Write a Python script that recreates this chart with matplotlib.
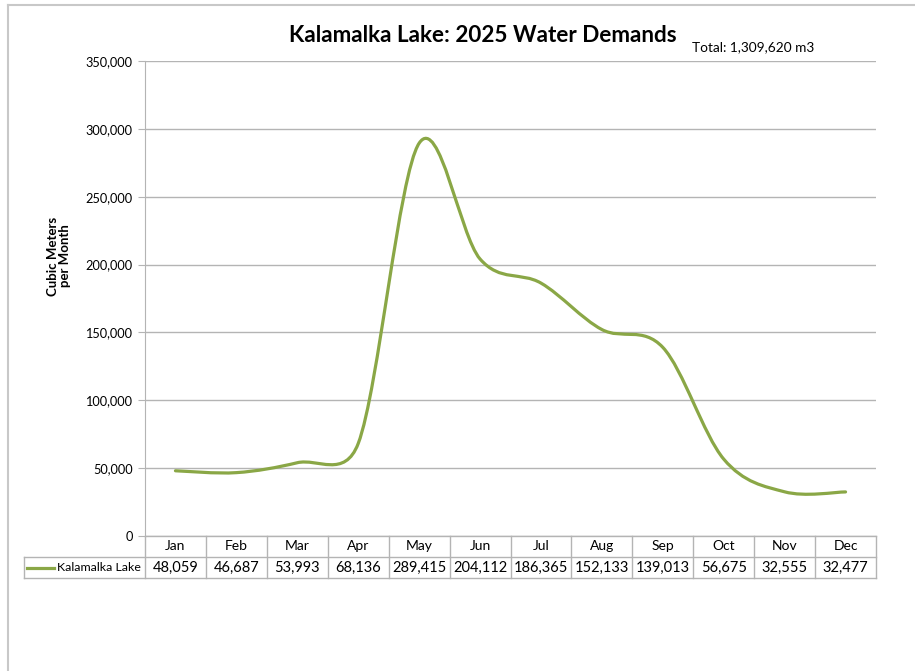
import matplotlib
matplotlib.use("Agg")
import matplotlib.pyplot as plt
import matplotlib.transforms as mtransforms
from matplotlib.path import Path
from matplotlib.patches import PathPatch
from matplotlib.lines import Line2D
import numpy as np

months = ["Jan", "Feb", "Mar", "Apr", "May", "Jun",
          "Jul", "Aug", "Sep", "Oct", "Nov", "Dec"]
demand = [48059, 46687, 53993, 68136, 289415, 204112,
          186365, 152133, 139013, 56675, 32555, 32477]
series_name = "Kalamalka Lake"
title = "Kalamalka Lake: 2025 Water Demands"
total_note = "Total: 1,309,620 m3"
y_label = "Cubic Meters\nper Month"
y_ticks = [0, 50000, 100000, 150000, 200000, 250000, 300000, 350000]

GREEN = "#8aa746"
GRID = "#b4b4b4"
plt.rcParams["font.family"] = ["Lato", "DejaVu Sans"]

W, H = 915, 671
fig = plt.figure(figsize=(W / 100, H / 100), dpi=100)
ax = fig.add_axes([145 / W, 1 - 536 / H, 731 / W, 475 / H])
ax.set_xlim(-0.5, len(months) - 0.5)
ax.set_ylim(0, 350000)

x = np.arange(len(months), dtype=float)
y = np.array(demand, dtype=float)

# smoothed line: catmull-rom style bezier, control arm capped relative to
# the adjacent segment length (screen space) so short legs don't dip
sx = 731 / 12
sy = 475 / 350000
n = len(x)


def seglen(i, j):
    return np.hypot((x[j] - x[i]) * sx, (y[j] - y[i]) * sy)


def ctrl(i, side):
    a, b = max(i - 1, 0), min(i + 1, n - 1)
    tx, ty = (x[b] - x[a]) / 6, (y[b] - y[a]) / 6
    arm = np.hypot(tx * sx, ty * sy)
    nb = min(i + side, n - 1)
    cap = 0.6 * seglen(i, nb)
    k = min(1.0, cap / arm) if arm else 0
    return x[i] + side * tx * k, y[i] + side * ty * k


verts = [(x[0], y[0])]
codes = [Path.MOVETO]
for i in range(n - 1):
    verts += [ctrl(i, 1), ctrl(i + 1, -1), (x[i + 1], y[i + 1])]
    codes += [Path.CURVE4] * 3
ax.add_patch(PathPatch(Path(verts, codes), fill=False, edgecolor=GREEN,
                       lw=2.3, capstyle="round", joinstyle="round"))

ax.set_yticks(y_ticks)
ax.set_yticklabels([f"{v:,}" for v in y_ticks], fontsize=9.2)
ax.set_xticks([])
ax.yaxis.grid(True, color=GRID, lw=1)
ax.set_axisbelow(True)
for s in ["top", "right", "bottom"]:
    ax.spines[s].set_visible(False)
ax.spines["left"].set_color(GRID)
ax.tick_params(axis="y", length=5, color=GRID, pad=4)

fig.text(59 / W, 1 - 256 / H, y_label, rotation=90, ha="center",
         va="center", fontsize=9.5, fontweight="bold", linespacing=1.0)

# data table under the plot
trans = mtransforms.blended_transform_factory(ax.transData, ax.transAxes)
row_h = 21 / 475
left_x = -0.5 - 121 / sx
tkw = dict(color=GRID, lw=1, transform=trans, clip_on=False)
for r in [0, -row_h, -2 * row_h]:
    x0 = -0.5 if r == 0 else left_x
    ax.add_line(Line2D([x0, 11.5], [r, r], **tkw))
for c in np.arange(-0.5, 12.0, 1.0):
    ax.add_line(Line2D([c, c], [0, -2 * row_h], **tkw))
ax.add_line(Line2D([left_x, left_x], [-row_h, -2 * row_h], **tkw))
for i, (m, v) in enumerate(zip(months, demand)):
    ax.text(i, -row_h / 2, m, transform=trans, ha="center", va="center",
            fontsize=10)
    ax.text(i, -1.5 * row_h, f"{v:,}", transform=trans, ha="center",
            va="center", fontsize=10.5)
ax.add_line(Line2D([left_x + 0.05, left_x + 0.5], [-1.5 * row_h] * 2,
                   color=GREEN, lw=2.3, transform=trans, clip_on=False))
ax.text(-0.56, -1.5 * row_h, series_name, transform=trans, ha="right",
        va="center", fontsize=8.9)

fig.text(483 / W, 1 - 35 / H, title, ha="center", va="center",
         fontsize=16.2, fontweight="bold")
fig.text(692 / W, 1 - 47 / H, total_note, ha="left", va="center",
         fontsize=9.8)

# outer chart border
fig.add_artist(Line2D([8 / W, 1], [1 - 5 / H] * 2, color="#c8c8c8", lw=1.5,
                      transform=fig.transFigure))
fig.add_artist(Line2D([8 / W] * 2, [0, 1 - 5 / H], color="#c8c8c8", lw=1.5,
                      transform=fig.transFigure))

fig.savefig("out.png", dpi=100)
